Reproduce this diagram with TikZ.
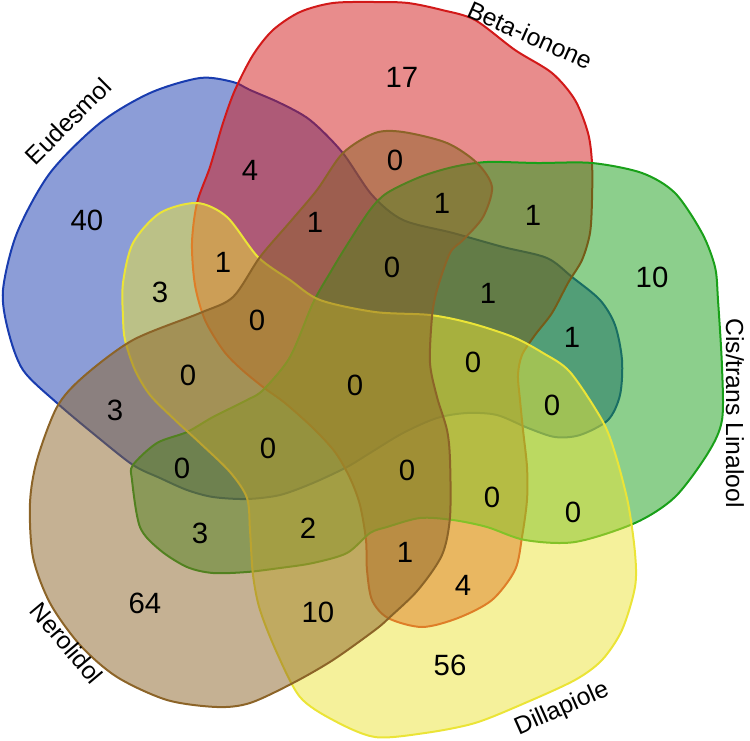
\documentclass[tikz,border=0pt]{standalone}
\usepackage{fontspec}
\setmainfont{Liberation Sans}
\definecolor{eudesmolc}{RGB}{25,60,175}
\definecolor{betac}{RGB}{210,25,25}
\definecolor{linaloolc}{RGB}{25,160,25}
\definecolor{dillapiolec}{RGB}{235,228,55}
\definecolor{nerolidolc}{RGB}{140,100,40}
\tikzset{every picture/.style={line width=0.75pt}}
\tikzset{
  vennset/.style={line width=1.5pt, line join=round, fill opacity=0.5, draw=#1, fill=#1},
  count/.style={inner sep=0.75pt, font=\fontsize{22}{22}\selectfont},
  setname/.style={inner sep=0.75pt, font=\fontsize{18.5}{18.5}\selectfont}
}
\begin{document}
\begin{tikzpicture}[x=0.75pt,y=0.75pt,yscale=-1,xscale=1]
\useasboundingbox (0,0) rectangle (750,740);

%Shape: Eudesmol
\draw [vennset=eudesmolc] plot [smooth cycle] coordinates {(200,78) (233,82) (250,90) (280,103) (310,120) (342,152) (372,195) (403,220) (453,233) (503,247) (547,258) (572,277) (600,300) (615,325) (622,360) (620,395) (608,420) (580,435) (555,437) (528,428) (497,415) (467,413) (437,418) (403,433) (370,453) (347,467) (313,483) (280,495) (247,499) (213,497) (187,490) (160,478) (133,465) (95,435) (57,403) (23,370) (8,330) (3,290) (17,233) (50,173) (100,123) (150,93)};
%Shape: Beta-ionone
\draw [vennset=betac] plot [smooth cycle] coordinates {(197,203) (210,167) (223,123) (235,90) (253,55) (273,30) (300,12) (333,3) (375,2) (408,3) (442,10) (475,20) (515,50) (552,73) (575,100) (588,133) (592,163) (592,200) (590,233) (582,260) (568,283) (552,313) (535,335) (522,355) (518,375) (520,400) (523,430) (527,467) (527,500) (522,537) (515,570) (492,600) (458,618) (422,627) (388,618) (372,600) (367,570) (366,540) (360,505) (350,478) (335,452) (313,428) (285,403) (263,387) (240,368) (223,350) (205,320) (195,285) (192,243)};
%Shape: Cis/trans Linalool
\draw [vennset=linaloolc] plot [smooth cycle] coordinates {(592,163) (642,173) (675,193) (702,233) (715,267) (718,300) (722,367) (722,420) (708,453) (675,497) (635,523) (575,542) (525,540) (487,527) (453,520) (420,518) (387,527) (370,533) (347,553) (313,563) (280,568) (247,572) (213,573) (187,567) (160,550) (140,527) (132,480) (133,465) (157,443) (187,432) (213,417) (247,400) (263,390) (290,357) (313,303) (330,273) (347,245) (370,210) (387,193) (420,177) (453,167) (487,162) (537,163)};
%Shape: Dillapiole
\draw [vennset=dillapiolec] plot [smooth cycle] coordinates {(570,372) (602,420) (615,453) (628,503) (635,553) (635,587) (622,630) (602,660) (575,680) (525,703) (475,723) (425,733) (375,737) (333,720) (300,697) (277,653) (260,610) (253,575) (250,530) (247,498) (230,472) (200,443) (175,420) (150,395) (135,370) (125,340) (123,317) (123,283) (133,243) (160,213) (197,203) (227,217) (258,257) (290,280) (320,300) (375,312) (430,315) (470,323) (513,337) (543,353)};
%Shape: Nerolidol
\draw [vennset=nerolidolc] plot [smooth cycle] coordinates {(37,460) (57,407) (83,377) (133,340) (200,313) (233,297) (260,257) (290,222) (317,190) (343,153) (375,133) (403,132) (447,143) (477,163) (492,187) (483,217) (463,240) (450,253) (437,290) (432,317) (430,363) (437,397) (447,430) (450,460) (450,517) (442,555) (418,590) (390,617) (375,630) (333,660) (293,683) (250,703) (217,707) (167,700) (117,677) (80,645) (50,603) (33,557) (30,503)};

% Set names
\node [setname, rotate=45] (nEud) at (68,121) {Eudesmol};
\node [setname, rotate=-24] (nBeta) at (530,35) {Beta-ionone};
\node [setname, rotate=-90] (nLin) at (735,413) {Cis/trans Linalool};
\node [setname, rotate=24] (nDill) at (562,709) {Dillapiole};
\node [setname, rotate=-50] (nNero) at (67,643) {Nerolidol};

% Counts
\node [count] (c01) at (87,220) {40};
\node [count] (c02) at (402,77) {17};
\node [count] (c03) at (652,277) {10};
\node [count] (c04) at (450,665) {56};
\node [count] (c05) at (145,603) {64};
\node [count] (c06) at (250,170) {4};
\node [count] (c07) at (315,222) {1};
\node [count] (c08) at (223,262) {1};
\node [count] (c09) at (160,292) {3};
\node [count] (c10) at (257,320) {0};
\node [count] (c11) at (395,160) {0};
\node [count] (c12) at (442,203) {1};
\node [count] (c13) at (533,215) {1};
\node [count] (c14) at (392,267) {0};
\node [count] (c15) at (488,293) {1};
\node [count] (c16) at (572,337) {1};
\node [count] (c17) at (473,362) {0};
\node [count] (c18) at (552,405) {0};
\node [count] (c19) at (355,385) {0};
\node [count] (c20) at (407,470) {0};
\node [count] (c21) at (492,497) {0};
\node [count] (c22) at (573,512) {0};
\node [count] (c23) at (405,552) {1};
\node [count] (c24) at (463,585) {4};
\node [count] (c25) at (115,410) {3};
\node [count] (c26) at (188,375) {0};
\node [count] (c27) at (182,468) {0};
\node [count] (c28) at (268,448) {0};
\node [count] (c29) at (200,533) {3};
\node [count] (c30) at (308,528) {2};
\node [count] (c31) at (318,612) {10};

\end{tikzpicture}
\end{document}
